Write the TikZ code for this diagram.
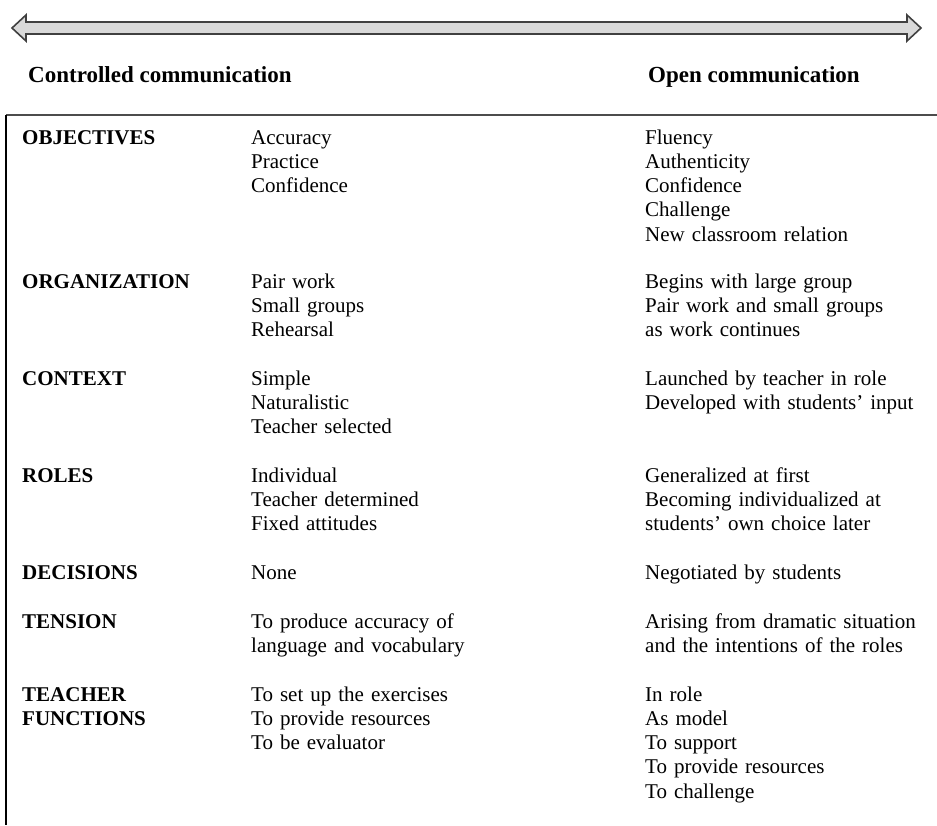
\documentclass[tikz,border=0pt]{standalone}
\usepackage{fontspec}
\setmainfont{Liberation Serif}
\usepackage{tikz}
\usetikzlibrary{arrows.meta}

\begin{document}
\begin{tikzpicture}[x=1pt, y=-1pt,
    head/.style = {anchor=base west, inner sep=0pt, font=\fontsize{23}{27}\selectfont\bfseries},
    lab/.style = {anchor=base west, inner sep=0pt, align=left, text width=200pt, font=\fontsize{21}{24.3}\selectfont\bfseries},
    cell/.style = {anchor=base west, inner sep=0pt, align=left, text width=290pt, font=\fontsize{21}{24.3}\selectfont}]
            \useasboundingbox (0,0) rectangle (937,825);

            \filldraw[draw=black!75, fill=black!15, line width=1.6pt, line join=miter]
                (12,28) -- (26,15) -- (26,22) -- (907,22) -- (907,15) -- (921,28)
                -- (907,41) -- (907,34) -- (26,34) -- (26,41) -- cycle;

            \node[head] (ctrl) at (28,82) {Controlled communication};
            \node[head] (open) at (648,82) {Open communication};

            \coordinate (tl) at (6,115);
            \coordinate (tr) at (937,115);
            \coordinate (bl) at (6,825);
            \draw[black!70, line width=1.8pt] (tl) -- (tr);
            \draw[line width=1.8pt] (tl) -- (bl);

            \node[lab] (obj) at (22,144) {OBJECTIVES};
            \node[cell] (objA) at (251,144) {Accuracy\\Practice\\Confidence};
            \node[cell] (objB) at (645,144) {Fluency\\Authenticity\\Confidence\\Challenge\\New classroom relation};

            \node[lab] (org) at (22,288) {ORGANIZATION};
            \node[cell] (orgA) at (251,288) {Pair work\\Small groups\\Rehearsal};
            \node[cell] (orgB) at (645,288) {Begins with large group\\Pair work and small groups\\as work continues};

            \node[lab] (con) at (22,385) {CONTEXT};
            \node[cell] (conA) at (251,385) {Simple\\Naturalistic\\Teacher selected};
            \node[cell] (conB) at (645,385) {Launched by teacher in role\\Developed with students’ input};

            \node[lab] (rol) at (22,482) {ROLES};
            \node[cell] (rolA) at (251,482) {Individual\\Teacher determined\\Fixed attitudes};
            \node[cell] (rolB) at (645,482) {Generalized at first\\Becoming individualized at\\students’ own choice later};

            \node[lab] (dec) at (22,579) {DECISIONS};
            \node[cell] (decA) at (251,579) {None};
            \node[cell] (decB) at (645,579) {Negotiated by students};

            \node[lab] (ten) at (22,628) {TENSION};
            \node[cell] (tenA) at (251,628) {To produce accuracy of\\language and vocabulary};
            \node[cell] (tenB) at (645,628) {Arising from dramatic situation\\and the intentions of the roles};

            \node[lab] (tea) at (22,701) {TEACHER\\FUNCTIONS};
            \node[cell] (teaA) at (251,701) {To set up the exercises\\To provide resources\\To be evaluator};
            \node[cell] (teaB) at (645,701) {In role\\As model\\To support\\To provide resources\\To challenge};
        \end{tikzpicture}
\end{document}
